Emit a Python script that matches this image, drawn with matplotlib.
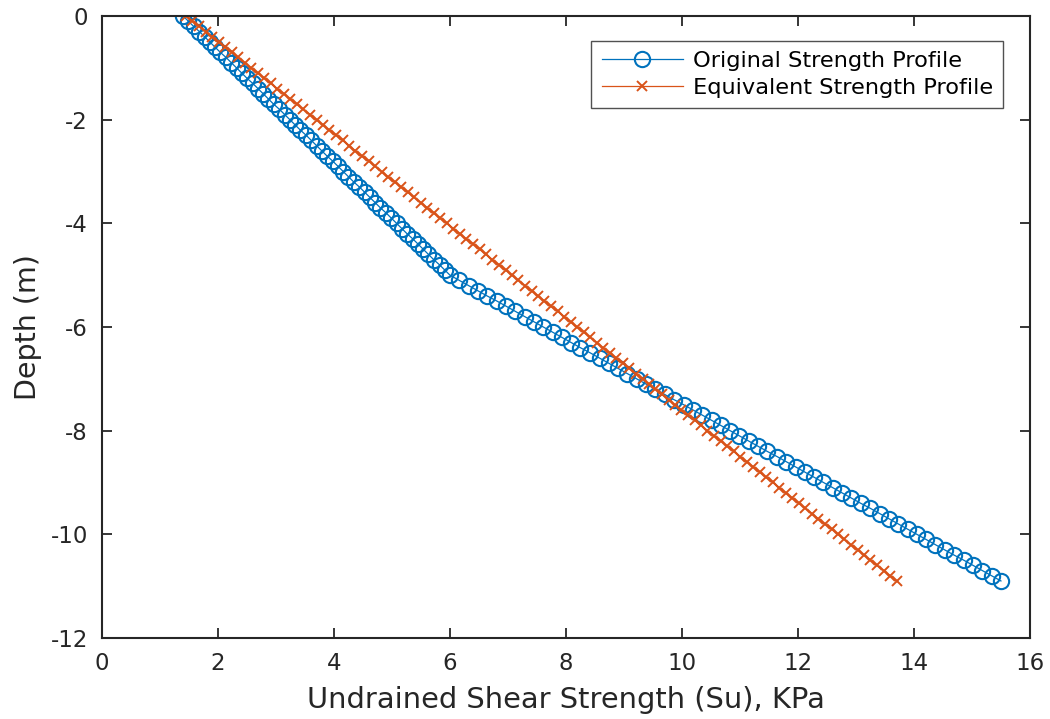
import matplotlib
matplotlib.use("Agg")
import matplotlib.pyplot as plt

plt.rcParams["font.family"] = ["DejaVu Sans"]

# Depth below ground surface (m), sampled every 0.1 m
depth = [
    0.0, -0.1, -0.2, -0.3, -0.4, -0.5, -0.6, -0.7, -0.8, -0.9,
    -1.0, -1.1, -1.2, -1.3, -1.4, -1.5, -1.6, -1.7, -1.8, -1.9,
    -2.0, -2.1, -2.2, -2.3, -2.4, -2.5, -2.6, -2.7, -2.8, -2.9,
    -3.0, -3.1, -3.2, -3.3, -3.4, -3.5, -3.6, -3.7, -3.8, -3.9,
    -4.0, -4.1, -4.2, -4.3, -4.4, -4.5, -4.6, -4.7, -4.8, -4.9,
    -5.0, -5.1, -5.2, -5.3, -5.4, -5.5, -5.6, -5.7, -5.8, -5.9,
    -6.0, -6.1, -6.2, -6.3, -6.4, -6.5, -6.6, -6.7, -6.8, -6.9,
    -7.0, -7.1, -7.2, -7.3, -7.4, -7.5, -7.6, -7.7, -7.8, -7.9,
    -8.0, -8.1, -8.2, -8.3, -8.4, -8.5, -8.6, -8.7, -8.8, -8.9,
    -9.0, -9.1, -9.2, -9.3, -9.4, -9.5, -9.6, -9.7, -9.8, -9.9,
    -10.0, -10.1, -10.2, -10.3, -10.4, -10.5, -10.6, -10.7, -10.8, -10.9,
]

# Original undrained shear strength profile (kPa)
su_original = [
    1.40, 1.49, 1.58, 1.68, 1.77, 1.86, 1.95, 2.04, 2.14, 2.23,
    2.32, 2.41, 2.50, 2.60, 2.69, 2.78, 2.87, 2.96, 3.06, 3.15,
    3.24, 3.33, 3.42, 3.52, 3.61, 3.70, 3.79, 3.88, 3.98, 4.07,
    4.16, 4.25, 4.34, 4.44, 4.53, 4.62, 4.71, 4.80, 4.90, 4.99,
    5.08, 5.17, 5.26, 5.36, 5.45, 5.54, 5.63, 5.72, 5.82, 5.91,
    6.00, 6.16, 6.32, 6.48, 6.64, 6.81, 6.97, 7.13, 7.29, 7.45,
    7.61, 7.77, 7.93, 8.09, 8.25, 8.42, 8.58, 8.74, 8.90, 9.06,
    9.22, 9.38, 9.54, 9.70, 9.86, 10.03, 10.19, 10.35, 10.51, 10.67,
    10.83, 10.99, 11.15, 11.31, 11.47, 11.64, 11.80, 11.96, 12.12, 12.28,
    12.44, 12.60, 12.76, 12.92, 13.08, 13.25, 13.41, 13.57, 13.73, 13.89,
    14.05, 14.21, 14.37, 14.53, 14.69, 14.86, 15.02, 15.18, 15.34, 15.50,
]

# Equivalent (linear) strength profile (kPa)
su_equivalent = [
    1.45, 1.56, 1.67, 1.79, 1.90, 2.01, 2.12, 2.24, 2.35, 2.46,
    2.57, 2.69, 2.80, 2.91, 3.02, 3.14, 3.25, 3.36, 3.47, 3.59,
    3.70, 3.81, 3.92, 4.04, 4.15, 4.26, 4.37, 4.48, 4.60, 4.71,
    4.82, 4.93, 5.05, 5.16, 5.27, 5.38, 5.50, 5.61, 5.72, 5.83,
    5.95, 6.06, 6.17, 6.28, 6.40, 6.51, 6.62, 6.73, 6.84, 6.96,
    7.07, 7.18, 7.29, 7.41, 7.52, 7.63, 7.74, 7.86, 7.97, 8.08,
    8.19, 8.31, 8.42, 8.53, 8.64, 8.76, 8.87, 8.98, 9.09, 9.20,
    9.32, 9.43, 9.54, 9.65, 9.77, 9.88, 9.99, 10.10, 10.22, 10.33,
    10.44, 10.55, 10.67, 10.78, 10.89, 11.00, 11.12, 11.23, 11.34, 11.45,
    11.57, 11.68, 11.79, 11.90, 12.01, 12.13, 12.24, 12.35, 12.46, 12.58,
    12.69, 12.80, 12.91, 13.03, 13.14, 13.25, 13.36, 13.48, 13.59, 13.70,
]

x_ticks = [0, 2, 4, 6, 8, 10, 12, 14, 16]
y_ticks = [0, -2, -4, -6, -8, -10, -12]

blue = "#0072BD"
orange = "#D95319"
axis_color = "#262626"

fig = plt.figure(figsize=(10.5, 7.19), dpi=100)
ax = fig.add_axes([0.0971, 0.1127, 0.8838, 0.865])

ax.plot(su_original, depth, color=blue, linewidth=0.9, marker="o",
        markersize=11, markerfacecolor="none", markeredgewidth=1.5,
        label="Original Strength Profile")
ax.plot(su_equivalent, depth, color=orange, linewidth=0.9, marker="x",
        markersize=7.5, markeredgewidth=1.4,
        label="Equivalent Strength Profile")

ax.set_xlim(0, 16)
ax.set_ylim(-12, 0)
ax.set_xticks(x_ticks)
ax.set_yticks(y_ticks)
ax.set_xticklabels([str(v) for v in x_ticks])
ax.set_yticklabels([str(v) for v in y_ticks])

for side in ax.spines.values():
    side.set_color(axis_color)
    side.set_linewidth(1.5)
ax.tick_params(direction="in", length=7, width=1.3, colors=axis_color,
               labelsize=16.5, top=True, right=True, pad=10)

ax.set_xlabel("Undrained Shear Strength (Su), KPa", fontsize=20.8,
              color=axis_color, labelpad=8)
ax.set_ylabel("Depth (m)", fontsize=20.5, color=axis_color, labelpad=6)

leg = ax.legend(loc="upper right", bbox_to_anchor=(0.971, 0.96),
                fontsize=16.2, frameon=True, fancybox=False,
                handlelength=3.6, borderpad=0.45, labelspacing=0.3,
                handletextpad=0.45, borderaxespad=0.0)
leg.get_frame().set_edgecolor(axis_color)
leg.get_frame().set_linewidth(1.0)

fig.savefig("out.png", dpi=100)
